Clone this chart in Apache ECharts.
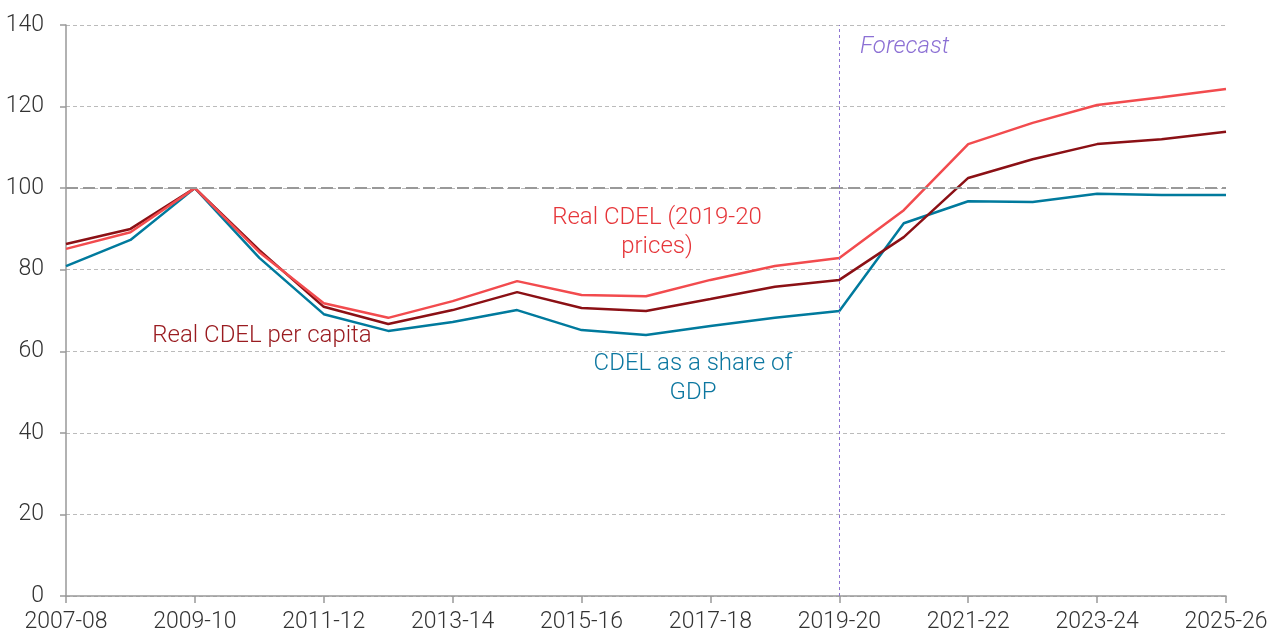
<!DOCTYPE html>
<html>
<head>
<meta charset="utf-8">
<script src="https://cdn.jsdelivr.net/npm/echarts@6/dist/echarts.min.js"></script>
<style>
  html, body { margin: 0; padding: 0; background: #fff; }
  #chart { width: 1278px; height: 634px; }
</style>
</head>
<body>
<div id="chart"></div>
<script>
const years = ['2007-08', '2008-09', '2009-10', '2010-11', '2011-12', '2012-13', '2013-14',
  '2014-15', '2015-16', '2016-17', '2017-18', '2018-19', '2019-20', '2020-21', '2021-22',
  '2022-23', '2023-24', '2024-25', '2025-26']

// Real CDEL (2019-20 prices), index 2009-10 = 100
const realCdel = [85.1, 89.2, 100, 84.3, 71.8, 68.2, 72.3, 77.2, 73.8, 73.5, 77.5, 80.9, 82.9,
  94.6, 110.8, 116.0, 120.4, 122.3, 124.3]
// Real CDEL per capita
const perCapita = [86.3, 90.0, 100, 84.8, 70.9, 66.7, 70.1, 74.5, 70.6, 69.9, 72.8, 75.8, 77.5,
  88.0, 102.5, 107.1, 110.8, 112.0, 113.8]
// CDEL as a share of GDP
const shareGdp = [80.9, 87.3, 100, 82.9, 69.1, 65.0, 67.2, 70.1, 65.2, 64.0, 66.2, 68.2, 69.9,
  91.4, 96.8, 96.6, 98.6, 98.3, 98.3]

const yTicks = [0, 20, 40, 60, 80, 100, 120, 140]
const forecastStart = '2019-20'

const font = 'Roboto, "Liberation Sans", sans-serif'

const chart = echarts.init(document.getElementById('chart'))

const line = (name, data, color) => ({
  name,
  type: 'line',
  data,
  symbol: 'none',
  lineStyle: { color, width: 2.5 },
  z: 3
})

chart.setOption({
  animation: false,
  grid: { left: 66, right: 52, top: 25, bottom: 38 },
  xAxis: {
    type: 'category',
    data: years,
    boundaryGap: false,
    axisLine: { lineStyle: { color: '#999', width: 1.5 } },
    axisTick: { interval: 1, length: 7, lineStyle: { color: '#999', width: 1.5 } },
    axisLabel: { interval: 1, color: '#333', fontSize: 23, fontWeight: 300, fontFamily: font, margin: 15 },
    splitLine: { show: false }
  },
  yAxis: {
    type: 'value',
    min: yTicks[0],
    max: yTicks[yTicks.length - 1],
    interval: 20,
    axisLine: { show: true, lineStyle: { color: '#999', width: 1.5 } },
    axisTick: { show: true, length: 6, lineStyle: { color: '#999', width: 1.5 } },
    axisLabel: { color: '#333', fontSize: 23, fontWeight: 300, fontFamily: font, margin: 22 },
    splitLine: { lineStyle: { color: '#bbb', type: [4, 3], width: 1 } }
  },
  series: [
    line('CDEL as a share of GDP', shareGdp, '#007A9D'),
    line('Real CDEL per capita', perCapita, '#8B1015'),
    {
      ...line('Real CDEL (2019-20 prices)', realCdel, '#F24B4E'),
      markLine: {
        silent: true,
        symbol: 'none',
        label: { show: false },
        data: [
          { yAxis: 100, lineStyle: { color: '#999', type: [12, 5], width: 2 } },
          { xAxis: forecastStart, lineStyle: { color: '#8C74D0', type: [3, 3], width: 1 } }
        ]
      }
    }
  ],
  graphic: [
    {
      type: 'text', style: {
        text: 'Real CDEL (2019-20\nprices)', x: 657, y: 232, align: 'center', verticalAlign: 'middle',
        fill: '#E6363A', font: '300 24px ' + font, lineHeight: 29
      }
    },
    {
      type: 'text', style: {
        text: 'Real CDEL per capita', x: 262, y: 336, align: 'center', verticalAlign: 'middle',
        fill: '#9A1C21', font: '300 24px ' + font
      }
    },
    {
      type: 'text', style: {
        text: 'CDEL as a share of\nGDP', x: 693, y: 378, align: 'center', verticalAlign: 'middle',
        fill: '#0C77A0', font: '300 24px ' + font, lineHeight: 29
      }
    },
    {
      type: 'text', style: {
        text: 'Forecast', x: 860, y: 47, verticalAlign: 'middle',
        fill: '#8C70D4', font: 'italic 300 24px ' + font
      }
    }
  ]
})
</script>
</body>
</html>
